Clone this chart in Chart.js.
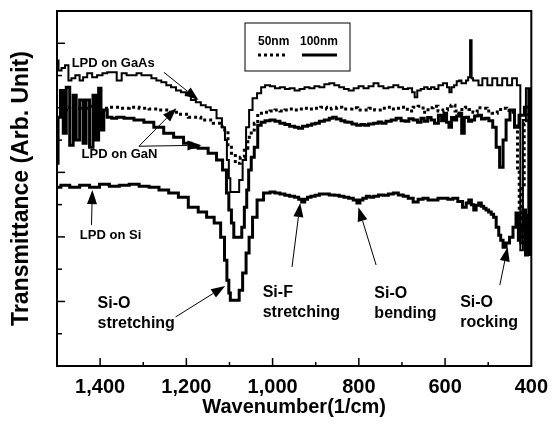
<!DOCTYPE html>
<html>
<head>
<meta charset="utf-8">
<script src="https://cdn.jsdelivr.net/npm/chart.js@4.4.1/dist/chart.umd.min.js"></script>
<style>
  html, body { margin: 0; padding: 0; background: #fff; }
</style>
</head>
<body>
<canvas id="ftirChart" width="557" height="425"></canvas>
<script>
// FTIR transmittance of LPD oxide films (arbitrary units, 0..11)
const gaasWn = [1500,1493,1486,1477,1470,1463,1452,1443,1436,1424,1413,1401,1388,1379,1367,1356,1344,1333,1321,1310,
  1298,1287,1275,1264,1252,1241,1230,1218,1207,1195,1184,1172,1161,1149,1138,1122,1113,1108,1104,1099,
  1097,1081,1074,1065,1058,1051,1042,1030,1023,1012,1000,989,977,966,955,943,932,920,909,
  897,886,874,863,851,840,829,818,806,795,783,772,760,749,737,726,714,703,692,680,
  673,668,661,652,645,636,629,620,611,599,592,588,582,576,570,565,559,554,549,544,
  540,537,533,526,519,508,496,485,473,462,450,439,428,423,416,409,405,400];
const gaasT = [9.47,9.16,9.23,9.32,8.85,8.92,9.01,8.85,8.95,9.07,8.95,9.01,9.07,9.10,9.10,8.85,9.07,9.01,9.01,9.07,
  9.01,9.01,8.92,8.85,8.79,8.70,8.64,8.54,8.48,8.39,8.24,8.17,8.08,8.02,7.93,7.68,7.40,7.00,6.38,5.82,
  5.39,5.39,5.76,6.38,7.40,7.93,8.30,8.45,8.64,8.70,8.67,8.61,8.64,8.58,8.61,8.54,8.58,8.64,8.61,
  8.67,8.64,8.73,8.76,8.70,8.64,8.58,8.54,8.61,8.67,8.61,8.67,8.76,8.67,8.61,8.64,8.70,8.64,8.58,8.61,
  8.48,8.33,8.54,8.58,8.64,8.58,8.64,8.58,8.70,8.76,8.64,8.48,8.64,8.70,8.82,8.85,8.76,8.76,8.85,8.95,
  10.09,8.92,8.85,8.85,8.70,8.92,8.70,8.92,8.70,8.92,8.70,8.92,8.70,3.59,7.62,8.61,3.44,8.61];

const gan50Wn = [1482,1459,1436,1413,1388,1367,1344,1321,1298,1275,1252,1230,1207,1184,1149,1126,1108,1099,1092,1081,
  1069,1062,1053,1046,1039,1030,1012,1000,989,977,966,955,943,936,920,908,897,880,870,858,
  845,834,822,810,795,783,770,757,744,730,720,707,695,680,668,657,645,634,622,611,
  599,590,581,573,565,557,549,540,531,520,508,497,485,473,462,452,444,434,430,426,
  423,419,414,409,400];
const gan50T = [7.93,8.02,7.99,8.05,7.99,8.02,7.99,8.02,7.99,7.96,7.93,7.86,7.80,7.71,7.62,7.52,7.31,6.78,6.59,6.28,
  6.47,6.75,7.09,7.31,7.52,7.83,7.86,7.90,7.93,7.90,7.93,7.96,7.93,7.96,7.99,7.96,7.99,8.02,7.96,7.99,
  8.02,7.96,7.96,8.00,7.93,7.93,7.99,7.93,7.99,8.02,7.96,7.99,8.02,7.90,8.02,8.05,7.86,8.00,8.05,7.90,
  7.93,8.05,8.08,7.90,7.83,8.00,8.02,7.95,7.86,8.00,7.99,7.90,7.83,7.95,7.99,7.92,7.86,7.52,6.07,4.60,
  3.75,5.50,7.50,7.86,7.93];

const gan100Wn = [1500,1495,1489,1482,1475,1466,1459,1452,1443,1436,1429,1420,1413,1406,1401,1395,1388,1379,1367,1356,
  1333,1310,1287,1264,1241,1218,1195,1184,1161,1138,1122,1110,1104,1099,1092,1088,1074,1069,1062,1058,
  1053,1046,1039,1030,1023,1012,1000,989,977,966,955,943,936,925,913,906,897,886,874,863,
  858,847,836,829,822,810,800,790,783,772,760,750,744,730,720,707,697,688,680,668,
  660,652,645,636,629,620,611,605,599,594,588,582,576,570,565,558,553,549,542,535,
  528,519,512,503,494,485,478,469,462,455,444,434,423,409,400];
const gan100T = [6.28,7.71,8.54,7.21,8.64,6.84,8.39,7.00,8.24,6.90,8.24,6.78,8.39,7.00,8.61,7.31,7.93,7.71,7.68,7.71,
  7.68,7.62,7.55,7.40,7.21,7.09,6.90,6.78,6.75,6.59,6.38,6.07,5.36,4.83,4.43,3.99,3.99,4.30,4.92,5.45,
  6.07,6.47,6.78,7.46,7.55,7.60,7.62,7.58,7.52,7.48,7.43,7.40,7.37,7.43,7.46,7.50,7.52,7.58,7.62,7.68,
  7.71,7.65,7.60,7.56,7.55,7.50,7.46,7.48,7.46,7.50,7.52,7.56,7.52,7.58,7.62,7.68,7.60,7.58,7.66,7.62,
  7.55,7.68,7.58,7.70,7.62,7.52,7.77,7.60,7.83,7.55,7.40,7.70,7.62,7.75,7.83,7.21,7.70,7.71,7.58,7.62,
  7.75,7.77,7.65,7.68,7.60,7.40,6.78,6.16,7.00,7.62,7.93,7.40,7.77,8.02,7.62];

const siWn = [1500,1482,1459,1436,1413,1390,1367,1344,1321,1298,1275,1252,1230,1207,1184,1161,1145,1126,1115,1108,
  1104,1099,1097,1081,1074,1065,1058,1051,1042,1030,1012,1000,989,977,966,955,943,936,929,922,
  916,906,897,886,874,863,851,840,829,818,808,801,794,787,778,771,760,749,737,726,
  714,703,691,680,668,657,645,634,622,611,599,588,576,565,554,548,542,536,531,525,
  519,513,508,502,496,490,485,478,473,469,462,455,446,439,432,428,423,416,411,407,400];
const siT = [5.54,5.60,5.54,5.60,5.54,5.63,5.57,5.60,5.63,5.57,5.54,5.45,5.36,5.23,4.92,4.77,4.61,4.43,3.99,3.28,
  2.66,2.26,2.04,2.04,2.35,2.88,3.50,3.99,4.61,5.14,5.36,5.39,5.36,5.33,5.29,5.26,5.23,5.17,5.08,5.17,
  5.23,5.26,5.29,5.33,5.33,5.30,5.29,5.26,5.23,5.20,5.14,5.05,5.14,5.20,5.26,5.23,5.26,5.30,5.29,5.33,
  5.36,5.30,5.26,5.20,5.08,5.17,5.20,5.14,5.14,5.20,5.20,5.17,5.20,5.10,4.92,5.05,5.14,5.00,4.83,4.98,
  5.05,4.95,4.89,4.83,4.77,4.70,4.61,4.30,4.05,3.90,3.68,3.81,3.99,4.30,4.74,3.90,4.30,4.83,3.44,4.67,5.14];

const FONT = "'Liberation Sans', Arial, Helvetica, sans-serif";

// text notes: wavenumber + level of the first line's centre
const notes = [
  { lines: ['LPD on GaAs'], wn: 1466, t: 9.38, font: 'bold 13px ' + FONT },
  { lines: ['LPD on GaN'], wn: 1443, t: 6.56, font: 'bold 13px ' + FONT },
  { lines: ['LPD on Si'], wn: 1447, t: 4.06, font: 'bold 13px ' + FONT },
  { lines: ['Si-O', 'stretching'], wn: 1406, t: 1.92, font: 'bold 16px ' + FONT },
  { lines: ['Si-F', 'stretching'], wn: 1023, t: 2.29, font: 'bold 16px ' + FONT },
  { lines: ['Si-O', 'bending'], wn: 764, t: 2.23, font: 'bold 16px ' + FONT },
  { lines: ['Si-O', 'rocking'], wn: 565, t: 1.95, font: 'bold 16px ' + FONT }
];
// arrows: [fromWn, fromT, toWn, toT]
const arrows = [
  [1252, 9.10, 1172, 8.24],
  [1310, 6.81, 1223, 7.99],
  [1310, 6.81, 1165, 6.84],
  [1420, 4.37, 1418, 5.45],
  [1225, 1.52, 1110, 2.48],
  [955, 3.07, 936, 5.05],
  [760, 3.13, 801, 4.92],
  [473, 2.51, 455, 3.68]
];

function pts(xs, ys) { return xs.map((v, i) => ({ x: v, y: ys[i] })); }

const decor = {
  id: 'decor',
  afterDatasetsDraw(chart) {
    const { ctx, chartArea: ca, scales: { x, y } } = chart;
    ctx.save();
    ctx.strokeStyle = '#000';
    ctx.fillStyle = '#000';

    // frame
    ctx.lineWidth = 2;
    ctx.strokeRect(ca.left, ca.top, ca.right - ca.left, ca.bottom - ca.top);

    // inward tick marks
    ctx.lineWidth = 1.5;
    x.ticks.forEach(tk => {
      if (tk.value <= 400 || tk.value >= 1500) return;
      const px = x.getPixelForValue(tk.value);
      const len = tk.value % 200 === 0 ? 8 : 4;
      ctx.beginPath(); ctx.moveTo(px, ca.bottom); ctx.lineTo(px, ca.bottom - len); ctx.stroke();
    });
    y.ticks.forEach(tk => {
      if (tk.value <= 0 || tk.value >= 11) return;
      const py = y.getPixelForValue(tk.value);
      const len = tk.value % 2 === 0 ? 8 : 5;
      ctx.beginPath(); ctx.moveTo(ca.left, py); ctx.lineTo(ca.left + len, py); ctx.stroke();
    });

    // arrows
    ctx.lineWidth = 1;
    arrows.forEach(a => {
      const x0 = x.getPixelForValue(a[0]), y0 = y.getPixelForValue(a[1]);
      const x1 = x.getPixelForValue(a[2]), y1 = y.getPixelForValue(a[3]);
      const ang = Math.atan2(y1 - y0, x1 - x0);
      const hl = 14, hw = 5;
      ctx.beginPath(); ctx.moveTo(x0, y0);
      ctx.lineTo(x1 - Math.cos(ang) * hl, y1 - Math.sin(ang) * hl); ctx.stroke();
      ctx.beginPath();
      ctx.moveTo(x1, y1);
      ctx.lineTo(x1 - Math.cos(ang) * hl - Math.sin(ang) * hw, y1 - Math.sin(ang) * hl + Math.cos(ang) * hw);
      ctx.lineTo(x1 - Math.cos(ang) * hl + Math.sin(ang) * hw, y1 - Math.sin(ang) * hl - Math.cos(ang) * hw);
      ctx.closePath(); ctx.fill();
    });

    // notes
    ctx.textAlign = 'left';
    ctx.textBaseline = 'middle';
    notes.forEach(n => {
      ctx.font = n.font;
      const px = x.getPixelForValue(n.wn), py = y.getPixelForValue(n.t);
      n.lines.forEach((s, i) => ctx.fillText(s, px, py + i * 20));
    });

    // legend box
    const bx = ca.left + 188, by = ca.top + 12;
    ctx.lineWidth = 1;
    ctx.strokeRect(bx, by, 105, 48);
    ctx.font = 'bold 12px ' + FONT;
    ctx.fillText('50nm', bx + 13, by + 19);
    ctx.fillText('100nm', bx + 55, by + 19);
    ctx.lineWidth = 3;
    ctx.setLineDash([3, 3]);
    ctx.beginPath(); ctx.moveTo(bx + 13, by + 32); ctx.lineTo(bx + 43, by + 32); ctx.stroke();
    ctx.setLineDash([]);
    ctx.beginPath(); ctx.moveTo(bx + 57, by + 32); ctx.lineTo(bx + 92, by + 32); ctx.stroke();

    ctx.restore();
  }
};

new Chart(document.getElementById('ftirChart'), {
  type: 'line',
  data: {
    datasets: [
      { label: 'LPD on GaAs', data: pts(gaasWn, gaasT), borderColor: '#000', borderWidth: 2 },
      { label: 'LPD on GaN 50nm', data: pts(gan50Wn, gan50T), borderColor: '#000', borderWidth: 3, borderDash: [3, 3] },
      { label: 'LPD on GaN 100nm', data: pts(gan100Wn, gan100T), borderColor: '#000', borderWidth: 3 },
      { label: 'LPD on Si', data: pts(siWn, siT), borderColor: '#000', borderWidth: 3 }
    ]
  },
  options: {
    responsive: false,
    animation: false,
    layout: { padding: { top: 11, right: 20, left: 0, bottom: 0 } },
    elements: { point: { radius: 0 }, line: { tension: 0, stepped: 'middle', borderJoinStyle: 'miter' } },
    plugins: { legend: { display: false }, tooltip: { enabled: false } },
    scales: {
      x: {
        type: 'linear', reverse: true, min: 400, max: 1500,
        afterFit: s => { s.height = 59; },
        grid: { display: false, drawTicks: false },
        border: { display: false },
        ticks: {
          stepSize: 100, padding: 9, color: '#000', autoSkip: false, maxRotation: 0,
          font: { family: FONT, size: 20, weight: 'bold' },
          callback: v => (v % 200 === 0 ? v.toLocaleString('en-US') : '')
        },
        title: {
          display: true, text: 'Wavenumber(1/cm)', color: '#000',
          font: { family: FONT, size: 20, weight: 'bold' }, padding: { top: 0, bottom: 6 }
        }
      },
      y: {
        min: 0, max: 11,
        afterFit: s => { s.width = 57; },
        grid: { display: false, drawTicks: false },
        border: { display: false },
        ticks: { display: false, stepSize: 1 },
        title: {
          display: true, text: 'Transmittance (Arb. Unit)', color: '#000',
          font: { family: FONT, size: 23, weight: 'bold' }, padding: { top: 8, bottom: 0 }
        }
      }
    }
  },
  plugins: [decor]
});
</script>
</body>
</html>
